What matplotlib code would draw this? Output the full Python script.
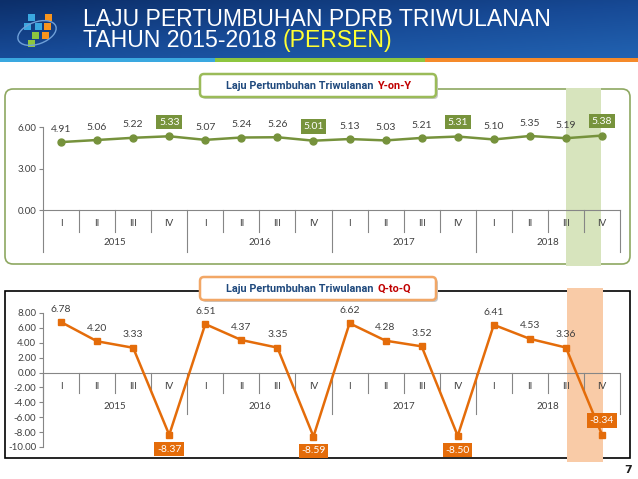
import matplotlib.pyplot as plt
import numpy as np
from matplotlib.patches import FancyBboxPatch, Rectangle, Ellipse
from matplotlib.colors import LinearSegmentedColormap

quarters = ['I', 'II', 'III', 'IV'] * 4
years = ['2015', '2016', '2017', '2018']
yoy = [4.91, 5.06, 5.22, 5.33, 5.07, 5.24, 5.26, 5.01,
       5.13, 5.03, 5.21, 5.31, 5.10, 5.35, 5.19, 5.38]
qtq = [6.78, 4.20, 3.33, -8.37, 6.51, 4.37, 3.35, -8.59,
       6.62, 4.28, 3.52, -8.50, 6.41, 4.53, 3.36, -8.34]
boxed = [3, 7, 11, 15]

W, H = 638, 479
GREEN = '#76923C'
ORANGE = '#E46C0A'
TXT = '#404040'
font = ['Lato', 'DejaVu Sans']
narrow = ['Roboto', 'Liberation Sans', 'DejaVu Sans']

fig = plt.figure(figsize=(6.38, 4.79), dpi=100)
bg = fig.add_axes([0, 0, 1, 1])
bg.axis('off')

# header
cmap = LinearSegmentedColormap.from_list('hdr', ['#0C2F6A', '#174A96', '#2263B2'])
grad = np.linspace(0, 1, 60).reshape(-1, 1) * 0.55 + np.linspace(0, 0.45, 200).reshape(1, -1)
bg.imshow(grad, extent=(0, W, 59, 0), aspect='auto', cmap=cmap)
bg.add_patch(Rectangle((0, 58), 215, 4, fc='#3AA8E0', ec='none'))
bg.add_patch(Rectangle((215, 58), 210, 4, fc='#8DC63F', ec='none'))
bg.add_patch(Rectangle((425, 58), 213, 4, fc='#F58A2A', ec='none'))

# logo
logo = [(28, 14, '#3AA8E0'), (45, 14, '#F7941D'), (24, 23, '#3AA8E0'),
        (35, 23, '#3AA8E0'), (44, 23, '#F7941D'), (32, 32, '#8DC63F'),
        (42, 32, '#F7941D'), (28, 40, '#8DC63F')]
for lx, ly, lc in logo:
    bg.add_patch(Rectangle((lx, ly), 7, 7, fc=lc, ec='none'))
bg.add_patch(Ellipse((37, 33), 40, 22, angle=-20, fill=False, ec='#6FA0D8', lw=1))

t1 = bg.text(83, 19, 'LAJU PERTUMBUHAN PDRB TRIWULANAN', color='white',
             fontsize=16.6, family='Liberation Sans', va='center', ha='left')
t2 = bg.text(83, 40, 'TAHUN 2015-2018 ', color='white',
             fontsize=16.6, family='Liberation Sans', va='center', ha='left')

# top box
bg.add_patch(FancyBboxPatch((5, 89), 625, 175, boxstyle='round,pad=0,rounding_size=8',
                            fc='none', ec='#8EA861', lw=1.2))
bg.add_patch(Rectangle((566, 88), 35, 178, fc='#D7E4BD', ec='none'))
# bottom box
bg.add_patch(Rectangle((5, 291), 625, 167, fc='none', ec='black', lw=1.2))
bg.add_patch(Rectangle((567, 288), 36, 174, fc='#F9CBA7', ec='none'))

# title boxes
for ty, ec, part in [(74, '#9BBB59', 'Y-on-Y'), (277, '#F2A766', 'Q-to-Q')]:
    bg.add_patch(FancyBboxPatch((202, ty + 2), 236, 23, boxstyle='round,pad=0,rounding_size=4',
                                fc='#C8C8C8', ec='none'))
    bg.add_patch(FancyBboxPatch((200, ty), 236, 23, boxstyle='round,pad=0,rounding_size=4',
                                fc='white', ec=ec, lw=1.8))
    bg.text(374, ty + 11.5, 'Laju Pertumbuhan Triwulanan', color='#1F497D', fontsize=7.8,
            family=narrow, weight='bold', ha='right', va='center')
    bg.text(377, ty + 11.5, part, color='#C00000', fontsize=7.8,
            family=narrow, weight='bold', ha='left', va='center')

bg.text(628, 470, '7', fontsize=8, weight='bold', ha='center', va='center', color='#202020')
bg.set_xlim(0, W)
bg.set_ylim(H, 0)

x = np.arange(16)


def category_axis(ax, y0, yq, yy, yql, yyl):
    for i in range(17):
        bottom = yy if i % 4 == 0 else yq
        ax.plot([i - 0.5, i - 0.5], [y0, bottom], color='#868686', lw=0.8, clip_on=False)
    for i in range(16):
        ax.text(i, yql, quarters[i], ha='center', va='center', fontsize=7,
                color=TXT, family=font, clip_on=False)
    for k, yr in enumerate(years):
        ax.text(4 * k + 1.5, yyl, yr, ha='center', va='center', fontsize=7,
                color=TXT, family=font, clip_on=False)


# Y-on-Y chart
ax1 = fig.add_axes([43 / W, (H - 210) / H, 577 / W, 83 / H])
ax1.set_facecolor('none')
ax1.set_xlim(-0.5, 15.5)
ax1.set_ylim(0, 6)
ax1.set_yticks([0, 3, 6])
ax1.set_yticklabels(['0.00', '3.00', '6.00'], fontsize=7, color=TXT, family=font)
ax1.set_xticks([])
for s in ['top', 'right']:
    ax1.spines[s].set_visible(False)
ax1.spines['left'].set_color('#868686')
ax1.spines['bottom'].set_color('#868686')
ax1.tick_params(axis='y', length=3, color='#868686', pad=2)
pu = 83 / 6
category_axis(ax1, 0, -22 / pu, -42 / pu, -14 / pu, -33 / pu)
ax1.plot(x, yoy, color=GREEN, lw=1.8, marker='o', ms=5, clip_on=False)
for i, v in enumerate(yoy):
    if i in boxed:
        ax1.annotate(f'{v:.2f}', (i, v), xytext=(0, 7), textcoords='offset points',
                     ha='center', va='bottom', fontsize=7.5, color='white', family=font,
                     bbox=dict(boxstyle='square,pad=0.25', fc='#77933C', ec='none'))
    else:
        ax1.annotate(f'{v:.2f}', (i, v), xytext=(0, 6), textcoords='offset points',
                     ha='center', va='bottom', fontsize=7.5, color=TXT, family=font)

# Q-to-Q chart
ax2 = fig.add_axes([43 / W, (H - 447) / H, 577 / W, 134 / H])
ax2.set_facecolor('none')
ax2.set_xlim(-0.5, 15.5)
ax2.set_ylim(-10, 8)
ticks = list(range(-10, 9, 2))
ax2.set_yticks(ticks)
ax2.set_yticklabels([f'{t:.2f}' for t in ticks], fontsize=7, color=TXT, family=font)
ax2.set_xticks([])
for s in ['top', 'right', 'bottom']:
    ax2.spines[s].set_visible(False)
ax2.spines['left'].set_color('#868686')
ax2.tick_params(axis='y', length=3, color='#868686', pad=2)
ax2.axhline(0, color='#868686', lw=0.8)
pu2 = 134 / 18
category_axis(ax2, 0, -20 / pu2, -41 / pu2, -14 / pu2, -34 / pu2)
ax2.plot(x, qtq, color=ORANGE, lw=1.8, marker='s', ms=5)
for i, v in enumerate(qtq):
    if i in boxed:
        dy = 7 if i == 15 else -7
        ax2.annotate(f'{v:.2f}', (i, v), xytext=(0, dy), textcoords='offset points',
                     ha='center', va='bottom' if dy > 0 else 'top', fontsize=7.5,
                     color='white', family=font,
                     bbox=dict(boxstyle='square,pad=0.25', fc=ORANGE, ec='none'))
    else:
        ax2.annotate(f'{v:.2f}', (i, v), xytext=(0, 6), textcoords='offset points',
                     ha='center', va='bottom', fontsize=7.5, color=TXT, family=font)

# yellow part of header title
fig.canvas.draw()
r = fig.canvas.get_renderer()
ext = t2.get_window_extent(r)
xe = bg.transData.inverted().transform((ext.x1, ext.y0))[0]
bg.text(xe, 40, '(PERSEN)', color='#FFFF33', fontsize=16.6, family='Liberation Sans',
        va='center', ha='left')

fig.savefig('out.png', dpi=100)
